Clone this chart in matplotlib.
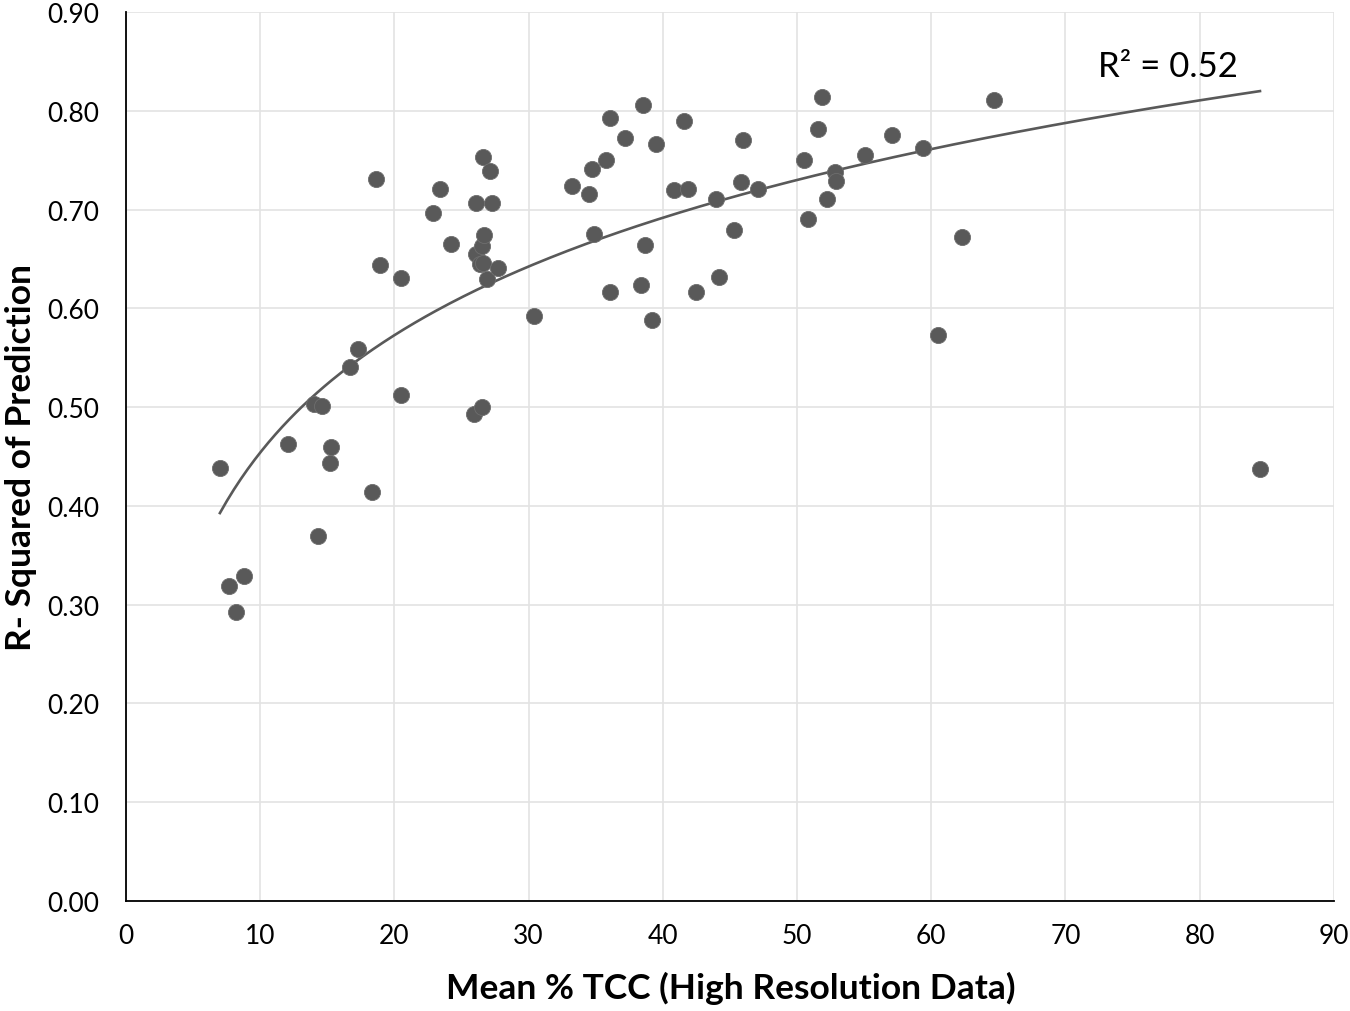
import numpy as np
import matplotlib
matplotlib.use("Agg")
import matplotlib.pyplot as plt
from matplotlib.ticker import FormatStrFormatter

plt.rcParams['font.family'] = ['Lato', 'DejaVu Sans']

# Data
mean_tcc = [7.0, 7.7, 8.8, 8.2, 12.1, 14.0, 14.6, 14.3, 15.2, 15.3,
            16.7, 17.3, 18.3, 18.6, 18.9, 20.5, 20.5, 22.9, 23.4, 24.2,
            25.9, 26.1, 26.1, 26.4, 26.5, 26.6, 26.7, 26.6, 26.5, 26.9,
            27.1, 27.3, 27.7, 30.4, 33.2, 34.5, 34.7, 34.9, 35.8, 36.1,
            36.1, 37.2, 38.4, 38.5, 38.7, 39.2, 39.5, 40.8, 41.6, 41.9,
            42.5, 44.0, 44.2, 45.3, 45.8, 46.0, 47.1, 50.5, 50.8, 51.6,
            51.9, 52.2, 52.8, 52.9, 55.1, 57.1, 59.4, 60.5, 62.3, 64.7,
            84.5]
r2_pred = [0.438, 0.319, 0.329, 0.293, 0.463, 0.503, 0.501, 0.370, 0.443, 0.460,
           0.541, 0.559, 0.414, 0.731, 0.644, 0.631, 0.512, 0.697, 0.721, 0.665,
           0.493, 0.707, 0.655, 0.645, 0.663, 0.646, 0.674, 0.753, 0.500, 0.630,
           0.739, 0.707, 0.641, 0.592, 0.724, 0.716, 0.741, 0.675, 0.750, 0.793,
           0.617, 0.773, 0.624, 0.806, 0.664, 0.588, 0.767, 0.720, 0.790, 0.721,
           0.617, 0.711, 0.632, 0.679, 0.728, 0.771, 0.721, 0.750, 0.691, 0.782,
           0.814, 0.711, 0.738, 0.729, 0.755, 0.776, 0.762, 0.573, 0.672, 0.811,
           0.437]
x_ticks = [0, 10, 20, 30, 40, 50, 60, 70, 80, 90]
y_ticks = [0.0, 0.1, 0.2, 0.3, 0.4, 0.5, 0.6, 0.7, 0.8, 0.9]
r2_label = "R² = 0.52"

x = np.array(mean_tcc)
y = np.array(r2_pred)

fig = plt.figure(figsize=(13.5, 10.12), dpi=100)
ax = fig.add_axes([0.0933, 0.1087, 0.8947, 0.8783])

ax.scatter(x, y, s=135, color='#595959', edgecolors='#6e6e6e', linewidths=0.6, zorder=3)

# logarithmic trendline
a, b = np.polyfit(np.log(x), y, 1)
xs = np.linspace(x.min(), x.max(), 300)
ax.plot(xs, a * np.log(xs) + b, color='#595959', lw=1.9, zorder=2)

ax.text(72.4, 0.835, r2_label, fontsize=25, color='#000000', va='baseline', ha='left')

ax.set_xlim(0, 90)
ax.set_ylim(0, 0.9)
ax.set_xticks(x_ticks)
ax.set_yticks(y_ticks)
ax.yaxis.set_major_formatter(FormatStrFormatter('%.2f'))
ax.grid(True, color='#e3e3e3', lw=1.2)
ax.set_axisbelow(True)
for s in ['top', 'right']:
    ax.spines[s].set_visible(False)
for s in ['left', 'bottom']:
    ax.spines[s].set_color('#000000')
    ax.spines[s].set_linewidth(1.3)
ax.tick_params(length=0, labelsize=19, colors='#000000')
ax.tick_params(axis='y', pad=19)
ax.tick_params(axis='x', pad=16)

fig.text(0.541, 0.0128, 'Mean % TCC (High Resolution Data)', fontsize=25.5,
         fontweight='bold', ha='center', va='baseline')
fig.text(0.004, 0.548, 'R- Squared of Prediction', fontsize=25.5,
         fontweight='bold', rotation=90, ha='left', va='center')

fig.savefig('out.png', dpi=100)
